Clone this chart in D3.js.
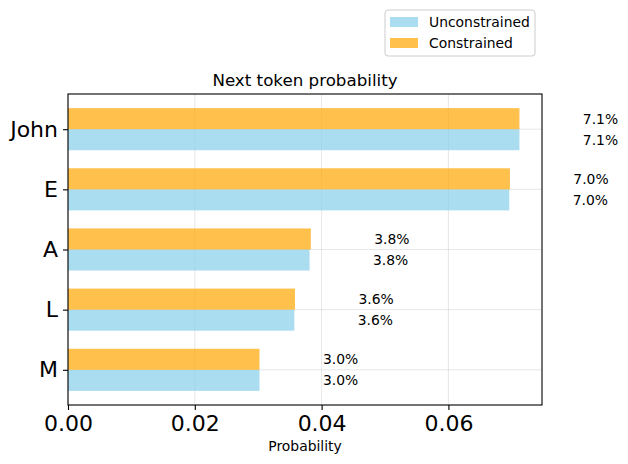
<!DOCTYPE html>
<html>
<head>
<meta charset="utf-8">
<script src="https://cdn.jsdelivr.net/npm/d3@7"></script>
<style>
  body { margin: 0; background: #fff; }
  svg { display: block; font-family: "DejaVu Sans", sans-serif; }
</style>
</head>
<body>
<div id="chart"></div>
<script>
// Datos (de arriba hacia abajo)
const categories = ['John', 'E', 'A', 'L', 'M'];
const unconstrained = [0.0712, 0.0696, 0.0381, 0.0357, 0.0302];
const constrained = [0.0712, 0.0697, 0.0383, 0.0358, 0.0302];
const xTicks = [0, 0.02, 0.04, 0.06];
const seriesNames = ['Unconstrained', 'Constrained'];

const width = 628, height = 464;
const plotLeft = 68, plotRight = 542, plotTop = 94, plotBottom = 405;
const colorU = '#87ceeb', colorC = '#ffa500';
const barH = 0.35;
const n = categories.length;

const svg = d3.select('#chart').append('svg')
  .attr('width', width)
  .attr('height', height);

// Escalas (estilo matplotlib, margen 5%)
const xMax = d3.max(unconstrained.concat(constrained)) * 1.05;
const x = d3.scaleLinear().domain([0, xMax]).range([plotLeft, plotRight]);
const yLo = -barH - 0.05 * (n - 1 + 2 * barH);
const yHi = (n - 1) + barH + 0.05 * (n - 1 + 2 * barH);
const y = d3.scaleLinear().domain([yLo, yHi]).range([plotBottom, plotTop]);
const pos = i => n - 1 - i;

// Grid
const grid = svg.append('g').attr('stroke', '#b0b0b0').attr('stroke-opacity', 0.3).attr('stroke-width', 1);
xTicks.forEach(t => {
  grid.append('line').attr('x1', x(t)).attr('x2', x(t)).attr('y1', plotTop).attr('y2', plotBottom);
});
categories.forEach((c, i) => {
  grid.append('line').attr('x1', plotLeft).attr('x2', plotRight).attr('y1', y(pos(i))).attr('y2', y(pos(i)));
});

// Barras
const bars = svg.append('g');
categories.forEach((c, i) => {
  const p = pos(i);
  bars.append('rect')
    .attr('x', x(0)).attr('y', y(p))
    .attr('width', x(unconstrained[i]) - x(0))
    .attr('height', y(p - barH) - y(p))
    .attr('fill', colorU).attr('fill-opacity', 0.7);
  bars.append('rect')
    .attr('x', x(0)).attr('y', y(p + barH))
    .attr('width', x(constrained[i]) - x(0))
    .attr('height', y(p) - y(p + barH))
    .attr('fill', colorC).attr('fill-opacity', 0.7);
});

// Etiquetas de valor
const fmtPct = v => (v * 100).toFixed(1) + '%';
categories.forEach((c, i) => {
  const p = pos(i);
  svg.append('text')
    .attr('x', x(constrained[i] + 0.01)).attr('y', y(p + barH / 2))
    .attr('dominant-baseline', 'central')
    .attr('font-size', 13.9).attr('fill', '#000')
    .text(fmtPct(constrained[i]));
  svg.append('text')
    .attr('x', x(unconstrained[i] + 0.01)).attr('y', y(p - barH / 2))
    .attr('dominant-baseline', 'central')
    .attr('font-size', 13.9).attr('fill', '#000')
    .text(fmtPct(unconstrained[i]));
});

// Marco
svg.append('rect')
  .attr('x', plotLeft).attr('y', plotTop)
  .attr('width', plotRight - plotLeft).attr('height', plotBottom - plotTop)
  .attr('fill', 'none').attr('stroke', '#000').attr('stroke-width', 1.1);

// Eje X
const xAxis = svg.append('g')
  .attr('transform', `translate(0,${plotBottom})`)
  .call(d3.axisBottom(x).tickValues(xTicks).tickFormat(d3.format('.2f')).tickSize(5).tickPadding(5));
xAxis.select('.domain').remove();
xAxis.selectAll('text').attr('font-size', 22).attr('font-family', '"DejaVu Sans", sans-serif').attr('fill', '#000');
xAxis.selectAll('line').attr('stroke', '#000').attr('stroke-width', 1.1);

// Eje Y
const yAxis = svg.append('g')
  .attr('transform', `translate(${plotLeft},0)`)
  .call(d3.axisLeft(y).tickValues(categories.map((c, i) => pos(i)))
    .tickFormat(v => categories[n - 1 - v]).tickSize(5).tickPadding(5));
yAxis.select('.domain').remove();
yAxis.selectAll('text').attr('font-size', 22).attr('font-family', '"DejaVu Sans", sans-serif').attr('fill', '#000');
yAxis.selectAll('line').attr('stroke', '#000').attr('stroke-width', 1.1);

// Títulos
svg.append('text')
  .attr('x', (plotLeft + plotRight) / 2).attr('y', plotTop - 8)
  .attr('text-anchor', 'middle')
  .attr('font-size', 16.7)
  .text('Next token probability');

svg.append('text')
  .attr('x', (plotLeft + plotRight) / 2).attr('y', 451)
  .attr('text-anchor', 'middle')
  .attr('font-size', 13.9)
  .text('Probability');

// Leyenda
const legend = svg.append('g').attr('transform', 'translate(385,10)');
legend.append('rect')
  .attr('width', 150).attr('height', 46).attr('rx', 3)
  .attr('fill', '#fff').attr('fill-opacity', 0.8)
  .attr('stroke', '#cccccc').attr('stroke-width', 1);
[colorU, colorC].forEach((col, k) => {
  legend.append('rect')
    .attr('x', 5).attr('y', 7 + k * 21)
    .attr('width', 28).attr('height', 10)
    .attr('fill', col).attr('fill-opacity', 0.7);
  legend.append('text')
    .attr('x', 44).attr('y', 12 + k * 21)
    .attr('dominant-baseline', 'central')
    .attr('font-size', 13.9)
    .text(seriesNames[k]);
});
</script>
</body>
</html>
